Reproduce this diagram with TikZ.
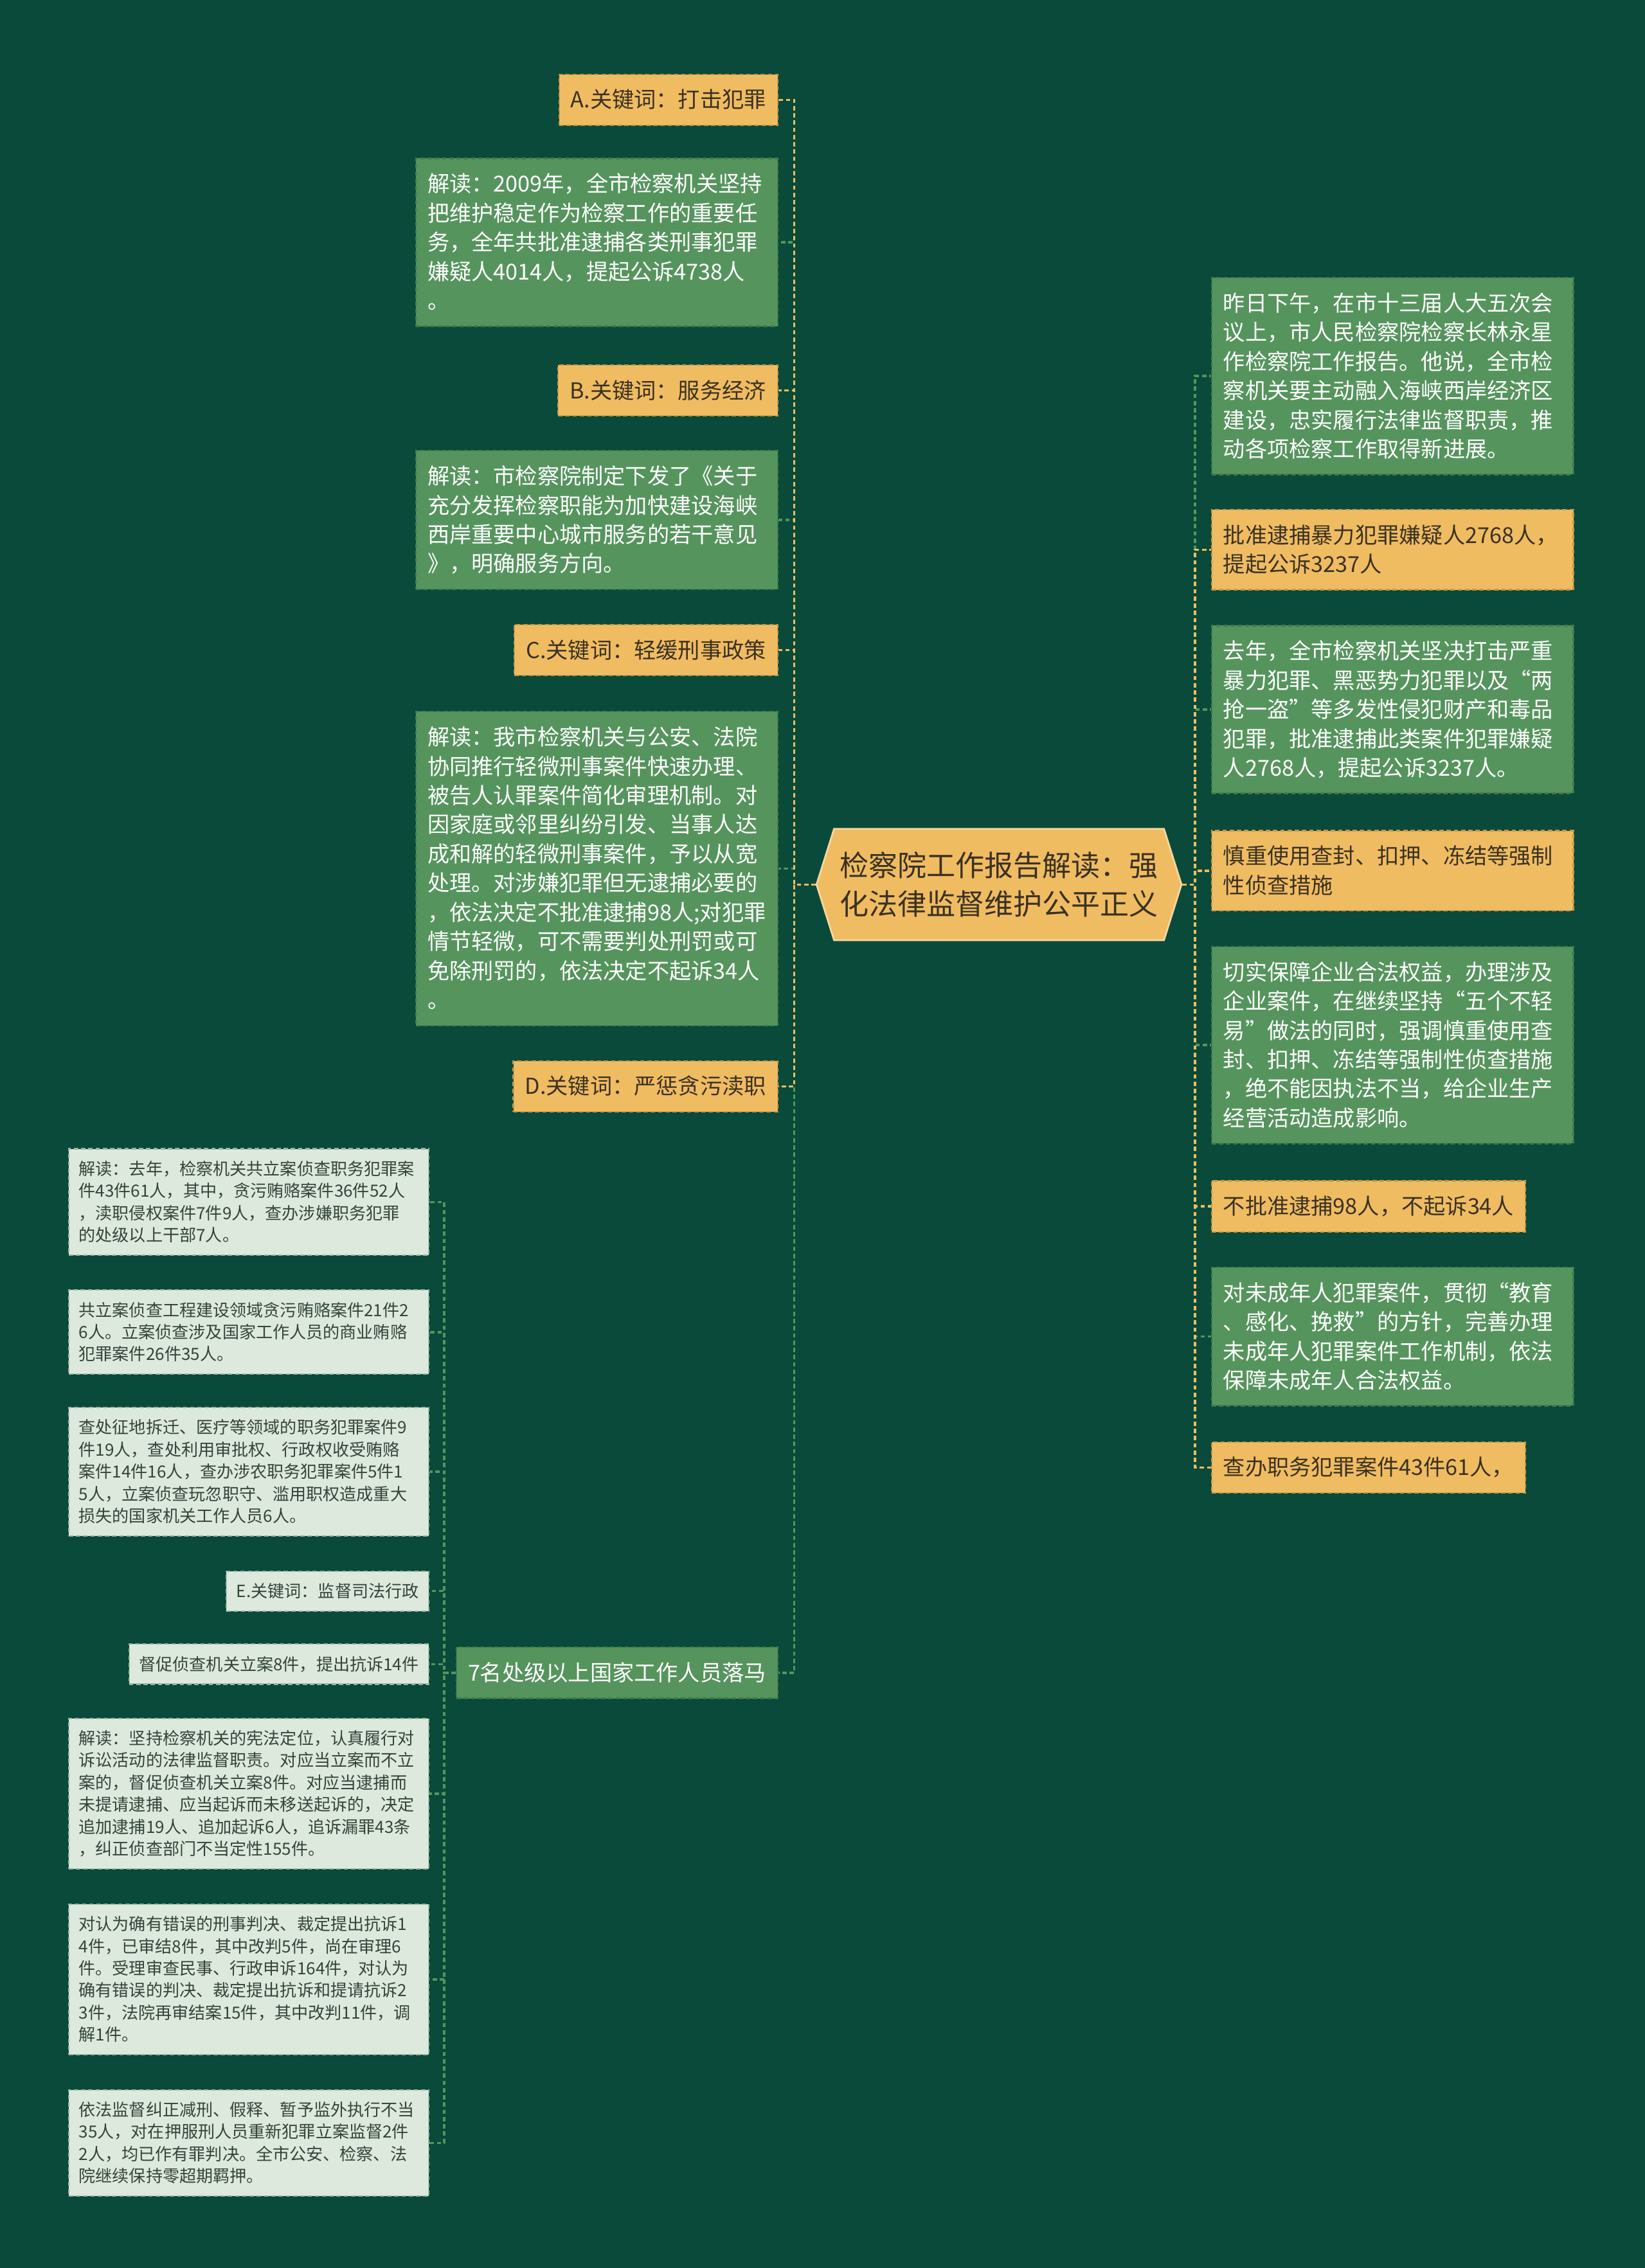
\documentclass[tikz,border=0pt]{standalone}
\usepackage{fontspec}
\usetikzlibrary{shapes.symbols}
\newfontfamily\cjk{Noto Sans CJK SC}
\definecolor{bgc}{HTML}{0A4A3A}
\definecolor{grn}{HTML}{56945E}
\definecolor{grnd}{HTML}{3F7A49}
\definecolor{org}{HTML}{F0BC62}
\definecolor{orgd}{HTML}{C9964A}
\definecolor{mint}{HTML}{DDE9DD}
\definecolor{mintd}{HTML}{9DB5A2}
\definecolor{ink}{HTML}{3A3122}
\definecolor{inkg}{HTML}{33443A}
\newcommand\bxs{\rule[-0.13em]{0pt}{1em}}
\begin{document}
\begin{tikzpicture}[x=0.5pt,y=-0.5pt,
  box/.style={dash pattern=on 1.5pt off 1pt,line width=0.5pt,inner xsep=4pt,inner ysep=5pt,align=left,
    font=\cjk\fontsize{7.6}{10.1}\selectfont,execute at begin node=\bxs,execute at end node=\bxs},
  gbox/.style={box,fill=grn,draw=grnd,text=white},
  obox/.style={box,fill=org,draw=orgd,text=ink},
  sbox/.style={box,fill=mint,draw=mintd,text=inkg,inner xsep=3.5pt,inner ysep=4pt,
    font=\cjk\fontsize{5.8}{7.65}\selectfont},
  wide/.style={text width=117pt},
  swide/.style={text width=117.5pt},
  hub/.style={shape=signal,signal to=east and west,signal pointer angle=145,fill=org,draw=org!60!white,
    line width=0.6pt,minimum width=124.5pt,minimum height=38.5pt,inner sep=2pt,align=left,text=ink,
    font=\cjk\fontsize{10}{13.5}\selectfont},
  glink/.style={draw=grn,dash pattern=on 1.5pt off 1pt,line width=0.75pt},
  olink/.style={draw=org,dash pattern=on 1.5pt off 1pt,line width=0.75pt},
]
\fill[bgc] (0,0) rectangle (1137,1568);

\node[hub] (hub) at (690.5,611.5) {检察院工作报告解读：强\\化法律监督维护公平正义};

\coordinate (lt) at (549,611.5);
\coordinate (rt) at (826,611.5);
\coordinate (bt) at (307,1156.5);

% left
\node[obox,anchor=east] (la) at (538,69) {A.关键词：打击犯罪};
\node[gbox,wide,anchor=east] (l2) at (538,167.5) {解读：2009年，全市检察机关坚持\\把维护稳定作为检察工作的重要任\\务，全年共批准逮捕各类刑事犯罪\\嫌疑人4014人，提起公诉4738人\\。};
\node[obox,anchor=east] (lb) at (538,270) {B.关键词：服务经济};
\node[gbox,wide,anchor=east] (l4) at (538,359.5) {解读：市检察院制定下发了《关于\\充分发挥检察职能为加快建设海峡\\西岸重要中心城市服务的若干意见\\》，明确服务方向。};
\node[obox,anchor=east] (lc) at (538,449.5) {C.关键词：轻缓刑事政策};
\node[gbox,wide,anchor=east] (l6) at (538,600.5) {解读：我市检察机关与公安、法院\\协同推行轻微刑事案件快速办理、\\被告人认罪案件简化审理机制。对\\因家庭或邻里纠纷引发、当事人达\\成和解的轻微刑事案件，予以从宽\\处理。对涉嫌犯罪但无逮捕必要的\\，依法决定不批准逮捕98人;对犯罪\\情节轻微，可不需要判处刑罚或可\\免除刑罚的，依法决定不起诉34人\\。};
\node[obox,anchor=east] (ld) at (538,751) {D.关键词：严惩贪污渎职};
\node[gbox,anchor=east] (l8) at (538,1156.5) {7名处级以上国家工作人员落马};

% right
\node[gbox,wide,anchor=west] (r1) at (837,260) {昨日下午，在市十三届人大五次会\\议上，市人民检察院检察长林永星\\作检察院工作报告。他说，全市检\\察机关要主动融入海峡西岸经济区\\建设，忠实履行法律监督职责，推\\动各项检察工作取得新进展。};
\node[obox,wide,anchor=west] (r2) at (837,380) {批准逮捕暴力犯罪嫌疑人2768人，\\提起公诉3237人};
\node[gbox,wide,anchor=west] (r3) at (837,490.5) {去年，全市检察机关坚决打击严重\\暴力犯罪、黑恶势力犯罪以及“两\\抢一盗”等多发性侵犯财产和毒品\\犯罪，批准逮捕此类案件犯罪嫌疑\\人2768人，提起公诉3237人。};
\node[obox,wide,anchor=west] (r4) at (837,602) {慎重使用查封、扣押、冻结等强制\\性侦查措施};
\node[gbox,wide,anchor=west] (r5) at (837,722.5) {切实保障企业合法权益，办理涉及\\企业案件，在继续坚持“五个不轻\\易”做法的同时，强调慎重使用查\\封、扣押、冻结等强制性侦查措施\\，绝不能因执法不当，给企业生产\\经营活动造成影响。};
\node[obox,anchor=west] (r6) at (837,834) {不批准逮捕98人，不起诉34人};
\node[gbox,wide,anchor=west] (r7) at (837,924) {对未成年人犯罪案件，贯彻“教育\\、感化、挽救”的方针，完善办理\\未成年人犯罪案件工作机制，依法\\保障未成年人合法权益。};
\node[obox,anchor=west] (r8) at (837,1014.5) {查办职务犯罪案件43件61人，};

% bottom left
\node[sbox,swide,anchor=east] (s1) at (297,831) {解读：去年，检察机关共立案侦查职务犯罪案\\件43件61人，其中，贪污贿赂案件36件52人\\，渎职侵权案件7件9人，查办涉嫌职务犯罪\\的处级以上干部7人。};
\node[sbox,swide,anchor=east] (s2) at (297,921) {共立案侦查工程建设领域贪污贿赂案件21件2\\6人。立案侦查涉及国家工作人员的商业贿赂\\犯罪案件26件35人。};
\node[sbox,swide,anchor=east] (s3) at (297,1017.5) {查处征地拆迁、医疗等领域的职务犯罪案件9\\件19人，查处利用审批权、行政权收受贿赂\\案件14件16人，查办涉农职务犯罪案件5件1\\5人，立案侦查玩忽职守、滥用职权造成重大\\损失的国家机关工作人员6人。};
\node[sbox,anchor=east] (s4) at (297,1100) {E.关键词：监督司法行政};
\node[sbox,anchor=east] (s5) at (297,1150.5) {督促侦查机关立案8件，提出抗诉14件};
\node[sbox,swide,anchor=east] (s6) at (297,1240) {解读：坚持检察机关的宪法定位，认真履行对\\诉讼活动的法律监督职责。对应当立案而不立\\案的，督促侦查机关立案8件。对应当逮捕而\\未提请逮捕、应当起诉而未移送起诉的，决定\\追加逮捕19人、追加起诉6人，追诉漏罪43条\\，纠正侦查部门不当定性155件。};
\node[sbox,swide,anchor=east] (s7) at (297,1368.5) {对认为确有错误的刑事判决、裁定提出抗诉1\\4件，已审结8件，其中改判5件，尚在审理6\\件。受理审查民事、行政申诉164件，对认为\\确有错误的判决、裁定提出抗诉和提请抗诉2\\3件，法院再审结案15件，其中改判11件，调\\解1件。};
\node[sbox,swide,anchor=east] (s8) at (297,1481.5) {依法监督纠正减刑、假释、暂予监外执行不当\\35人，对在押服刑人员重新犯罪立案监督2件\\2人，均已作有罪判决。全市公安、检察、法\\院继续保持零超期羁押。};

% links
\foreach \n in {l2,l4,l6,l8}
  \draw[glink] (hub.west) -- (lt) |- (\n.east);
\foreach \n in {r1,r3,r5,r7}
  \draw[glink] (hub.east) -- (rt) |- (\n.west);
\foreach \n in {s1,s2,s3,s4,s5,s6,s7,s8}
  \draw[glink] (l8.west) -- (bt) |- (\n.east);
\foreach \n in {la,lb,lc,ld}
  \draw[olink] (hub.west) -- (lt) |- (\n.east);
\foreach \n in {r2,r4,r6,r8}
  \draw[olink] (hub.east) -- (rt) |- (\n.west);
\end{tikzpicture}
\end{document}
